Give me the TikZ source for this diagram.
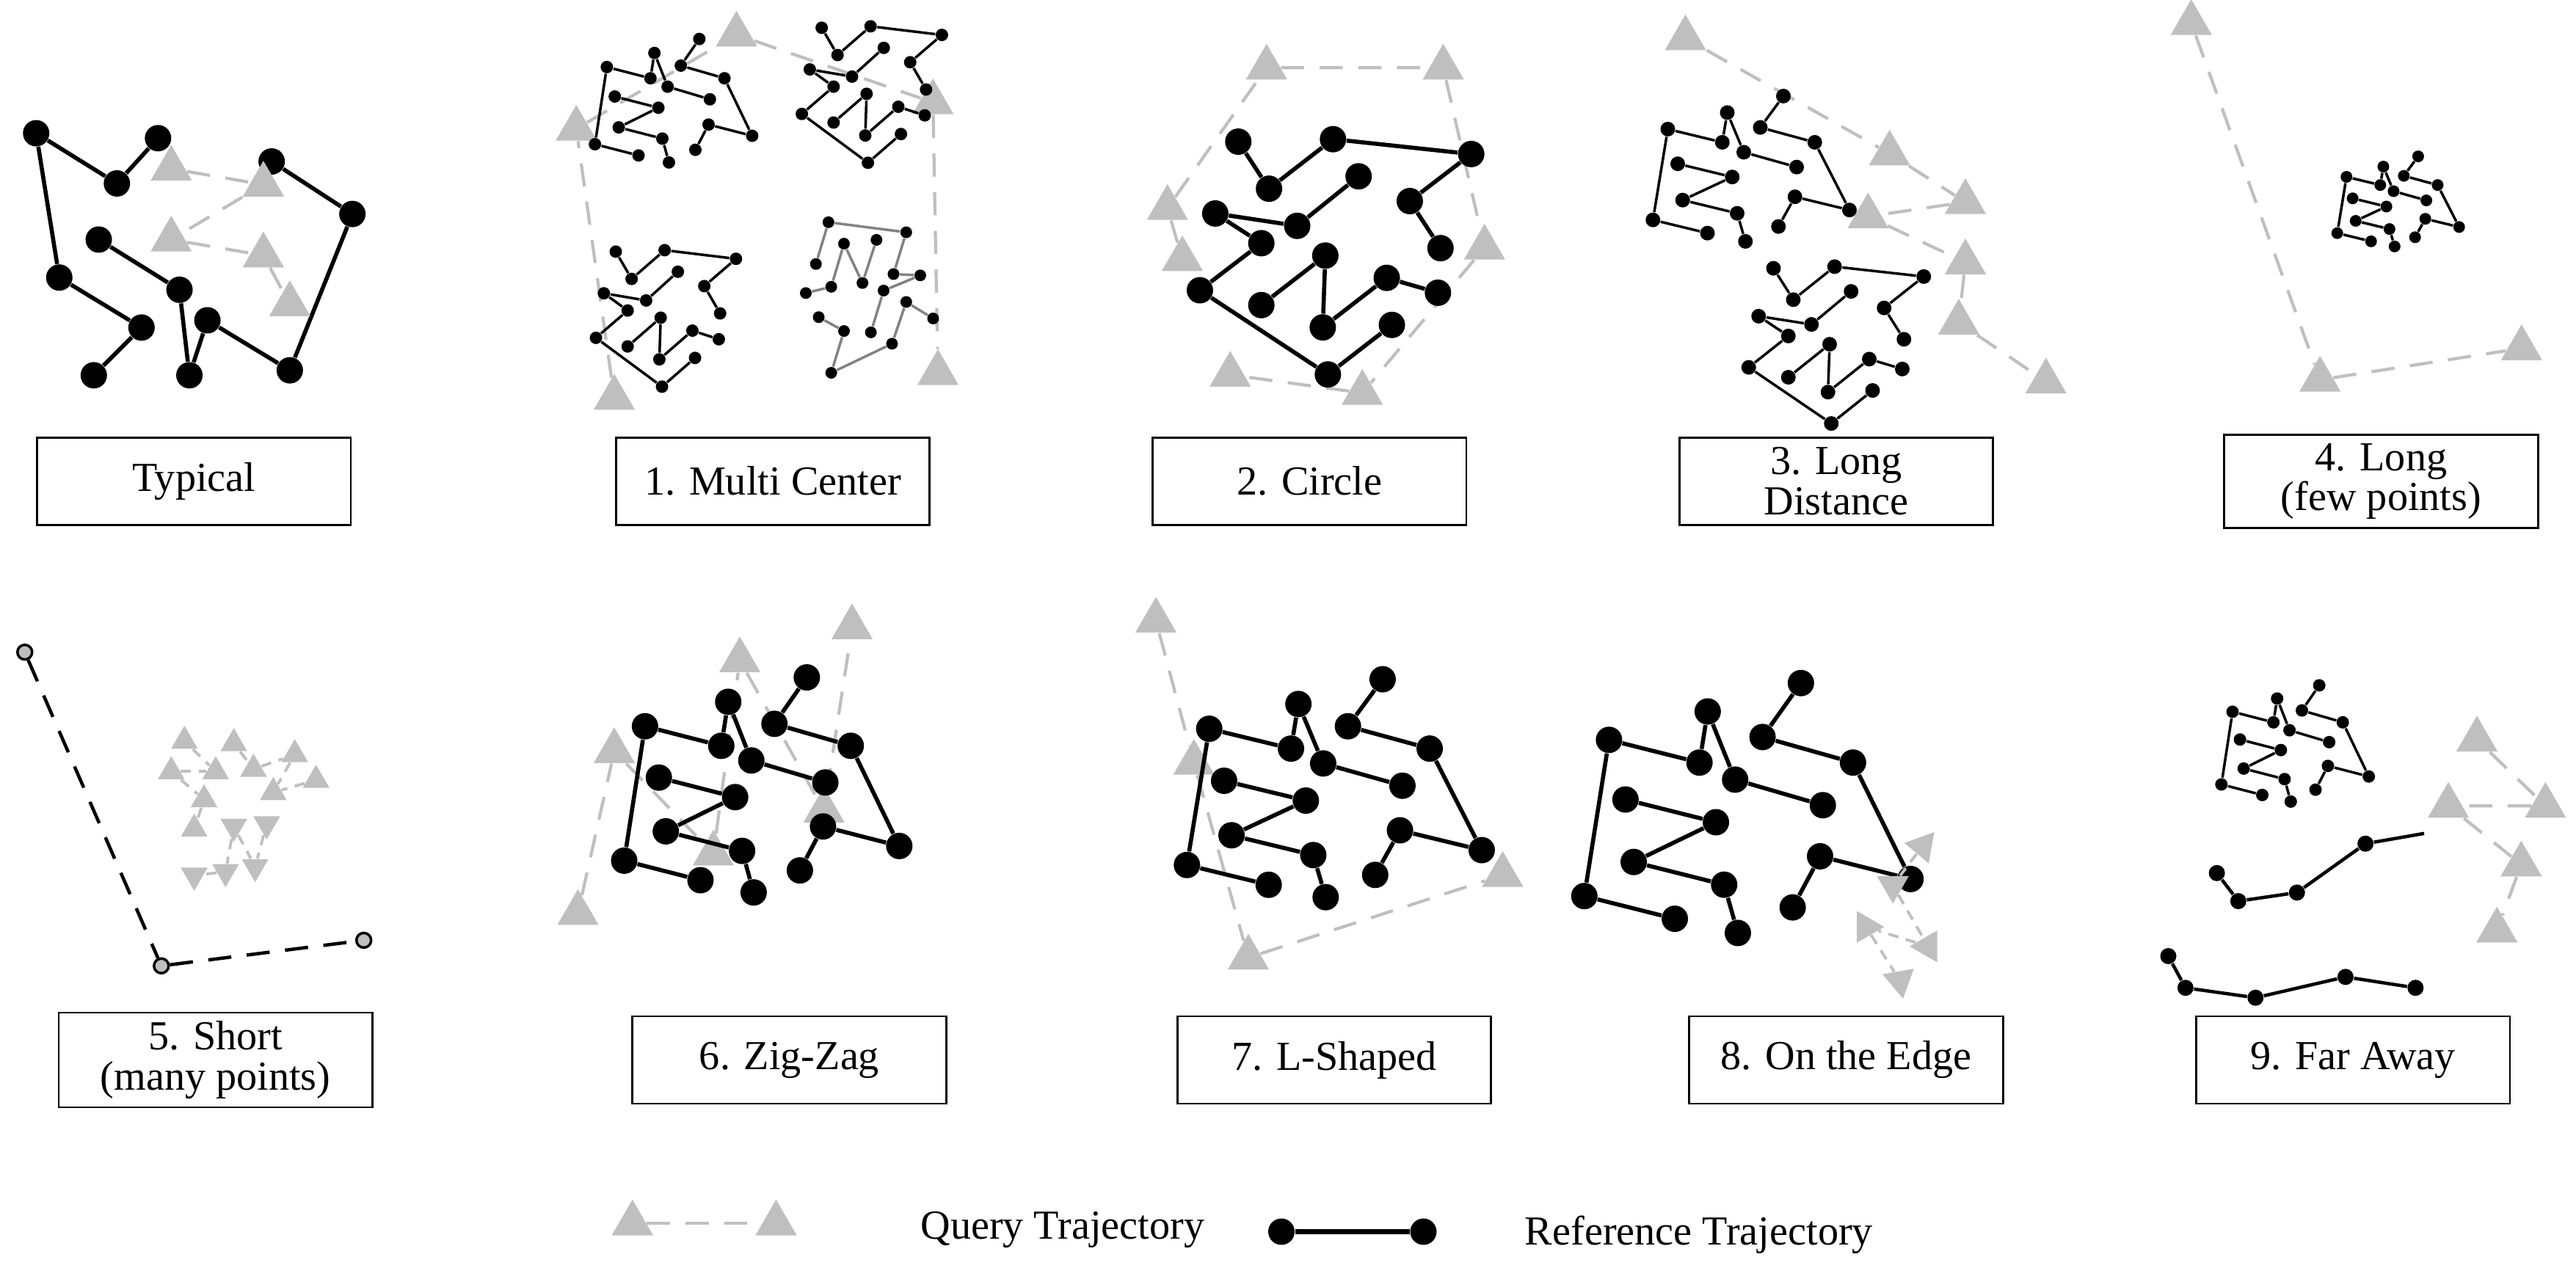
\documentclass[tikz,border=0pt]{standalone}
\usepackage{fontspec}
\setmainfont{Liberation Serif}
\usetikzlibrary{shapes.geometric}
\definecolor{qgray}{RGB}{191,191,191}
\definecolor{cgray}{RGB}{130,130,130}
\tikzset{
  dot/.style={circle,fill=black,inner sep=0pt,minimum size=0.36cm},
  ln/.style={draw=black,line width=1.6pt},
  tri/.style={regular polygon,regular polygon sides=3,fill=qgray,inner sep=0pt,minimum size=0.65cm},
  stri/.style={tri,minimum size=0.42cm},
  mtri/.style={tri,minimum size=0.5cm},
  qln/.style={draw=qgray,line width=1.2pt,dash pattern=on 9pt off 6pt},
  sqln/.style={draw=qgray,line width=1.1pt,dash pattern=on 4pt off 3pt},
  gdot/.style={circle,fill=qgray,draw=black,line width=1pt,inner sep=0pt,minimum size=0.2cm},
  box/.style={draw,line width=0.8pt,minimum width=4.275cm,minimum height=1.19cm,align=center,font=\fontsize{16}{15.5}\selectfont},
  lab/.style={font=\fontsize{16}{18}\selectfont,anchor=west},
  small/.style={dot/.style={circle,fill=black,inner sep=0pt,minimum size=#1},ln/.style={draw=black,line width=1pt}},
  pics/clA/.style={code={
    \foreach \n/\x/\y in {1/-50/-24,2/-14/-34,3/-17/-16,4/-4/-10,5/28/-1,6/-44/-3,7/-11/5,8/-41/19,9/-8/27,10/-3/44,11/-59/31,12/-26/39,13/20/-44,14/6/-25,15/39/-16,16/60/25,17/27/17,18/17/35}
      {\node[dot] (-\n) at (\x,\y) {};}
    \foreach \a/\b in {1/3,2/3,2/4,4/5,1/11,11/12,6/7,7/8,8/9,9/10,13/14,14/15,15/16,16/17,17/18}
      {\draw[ln] (-\a) -- (-\b);}
  }},
  pics/clB/.style={code={
    \foreach \n/\x/\y in {1/-38/-47,2/-26/-28,3/-1/-48,4/53/-42,5/29/-23,6/41/-4,7/9/-33,8/-15/-13,9/-47/-18,10/-29/-6,11/-53/13,12/-4/-1,13/-29/19,14/-5/28,15/20/8,16/40/14,17/22/27,18/-3/47}
      {\node[dot] (-\n) at (\x,\y) {};}
    \foreach \a/\b in {1/2,2/3,3/4,4/5,5/6,7/8,8/9,9/10,10/11,11/18,18/17,13/12,12/14,14/15,15/16}
      {\draw[ln] (-\a) -- (-\b);}
  }}
}
\begin{document}
\begin{tikzpicture}[x=0.0225cm,y=-0.0225cm]
\useasboundingbox (0,0) rectangle (1560,768);

% ---------- Typical ----------
\foreach \n/\x/\y in {1/21.9/80.7,2/70.8/111.1,3/95.7/83.7,4/164.5/97.8,5/213.4/129.6,6/59.8/145.1,7/108.7/175.5,8/35.9/168.1,9/85.7/198.4,10/56.8/227.3,11/114.7/227.3,12/125.6/194,13/175.5/224.3}
  {\node[dot] (t\n) at (\x,\y) {};}
\foreach \a/\b in {1/2,2/3,1/8,8/9,9/10,6/7,7/11,11/12,12/13,13/5,5/4}
  {\draw[ln] (t\a) -- (t\b);}
\node[tri] (tq1) at (103.7,102.2) {};
\node[tri] (tq2) at (159.5,111.8) {};
\node[tri] (tq3) at (103.7,145.1) {};
\node[tri] (tq4) at (159.5,154.7) {};
\node[tri] (tq5) at (175.5,184.3) {};
\draw[qln] (tq1) -- (tq2) -- (tq3) -- (tq4) -- (tq5);
\node[box] (bT) at (117.5,291.5) {Typical};

% ---------- 1. Multi Center ----------
\node[tri] (m1) at (349,78) {};
\node[tri] (m2) at (446,21) {};
\node[tri] (m3) at (565,62) {};
\node[tri] (m4) at (568,226) {};
\node[tri] (m5) at (372,241) {};
\draw[qln] (m5) -- (m1) -- (m2) -- (m3) -- (m4);
\pic[small=0.17cm,xscale=0.8,yscale=0.85] (mA) at (407.5,61) {clA};
\pic[small=0.17cm,xscale=0.8,yscale=0.87] (mB) at (528,57.7) {clB};
\pic[small=0.17cm,xscale=0.8,yscale=0.87] (mC) at (403.3,193.3) {clB};
\foreach \n/\x/\y in {1/501.7/134.6,2/548.8/140.7,3/494.1/159.9,4/511.1/147.6,5/522.3/171.4,6/530.8/145.3,7/488/177.5,8/503.4/173.7,9/541.1/166,10/557.3/166.8,11/535.1/176,12/495.8/192.1,13/511.1/200.5,14/503.4/225.8,15/540.2/208.2,16/548.8/182.9,17/565.1/192.9,18/527.4/201.3}
  {\node[dot,minimum size=0.16cm] (c\n) at (\x,\y) {};}
\foreach \a/\b in {1/2,1/3,2/9,9/10,10/11,7/8,8/4,4/5,5/6,11/18,12/13,13/14,14/15,15/16,16/17}
  {\draw[draw=cgray,line width=1pt] (c\a) -- (c\b);}
\node[box] (b1) at (468,291.5) {1. Multi Center};

% ---------- 2. Circle ----------
\node[tri] (r1) at (716,157) {};
\node[tri] (r2) at (707,126) {};
\node[tri] (r3) at (767,41) {};
\node[tri] (r4) at (874,41) {};
\node[tri] (r5) at (899,150) {};
\node[tri] (r6) at (825,238) {};
\node[tri] (r7) at (745,227) {};
\draw[qln] (r1) -- (r2) -- (r3) -- (r4) -- (r5) -- (r6) -- (r7);
\pic[xscale=1.55,yscale=1.5] (cB) at (808.8,156.3) {clB};
\node[box] (b2) at (793,291.5) {2. Circle};

% ---------- 3. Long Distance ----------
\node[tri] (l1) at (1020.7,23.2) {};
\node[tri] (l2) at (1144.3,93) {};
\node[tri] (l3) at (1190.2,122.4) {};
\node[tri] (l4) at (1131.3,131.1) {};
\node[tri] (l5) at (1190.2,158.9) {};
\node[tri] (l6) at (1186.2,195.4) {};
\node[tri] (l7) at (1239,231.1) {};
\draw[qln] (l1) -- (l2) -- (l3) -- (l4) -- (l5) -- (l6) -- (l7);
\pic[small=0.2cm] (dA) at (1060,102.2) {clA};
\pic[small=0.2cm] (dB) at (1112,209.5) {clB};
\node[box] (b3) at (1112,291.5) {3. Long\\Distance};

% ---------- 4. Long (few points) ----------
\node[tri] (f1) at (1327,14) {};
\node[tri] (f2) at (1405,230) {};
\node[tri] (f3) at (1527,211) {};
\draw[qln] (f1) -- (f2) -- (f3);
\pic[small=0.16cm,scale=0.62] (fA) at (1452,122) {clA};
\node[box] (b4) at (1442,291.5) {4. Long\\(few points)};

% ---------- 5. Short (many points) ----------
\node[gdot] (p1) at (15,395) {};
\node[gdot] (p2) at (97.7,585) {};
\node[gdot] (p3) at (220.3,569.5) {};
\draw[draw=black,line width=1.3pt,dash pattern=on 9pt off 6pt] (p1) -- (p2) -- (p3);
\foreach \n/\x/\y/\r in {1/111.7/448.8/0,2/141.6/450.3/0,3/178.5/457/0,4/103.7/467.3/0,5/130.6/467.3/0,6/153.5/465.8/0,7/191.4/472.5/0,8/165.5/479.9/0,9/123.6/484.3/0,10/117.6/502.1/0,11/141.6/500.6/180,12/161.5/499.1/180,13/117.6/530.2/180,14/136.6/528/180,15/154.5/525/180}
  {\node[stri,rotate=\r] (s\n) at (\x,\y) {};}
\foreach \a/\b in {1/5,4/5,2/6,6/3,3/8,7/8,4/9,9/10,11/15,12/15,11/14,14/13}
  {\draw[sqln] (s\a) -- (s\b);}
\node[box] (b5) at (130.5,642) {5. Short\\(many points)};

% ---------- 6. Zig-Zag ----------
\node[tri] (z1) at (350,553) {};
\node[tri] (z2) at (372,455) {};
\node[tri] (z3) at (432,517) {};
\node[tri] (z4) at (448,400) {};
\node[tri] (z5) at (499,491) {};
\node[tri] (z6) at (516,380) {};
\draw[qln] (z1) -- (z2) -- (z3) -- (z4) -- (z5) -- (z6);
\pic[xscale=1.4,yscale=1.48] (zA) at (460.6,475.4) {clA};
\node[box] (b6) at (478,642) {6. Zig-Zag};

% ---------- 7. L-Shaped ----------
\node[tri] (e1) at (700,376) {};
\node[tri] (e2) at (723,462) {};
\node[tri] (e3) at (756,580) {};
\node[tri] (e4) at (910,530) {};
\draw[qln] (e1) -- (e2) -- (e3) -- (e4);
\pic[scale=1.5] (eA) at (807.3,477.4) {clA};
\node[box] (b7) at (808,642) {7. L-Shaped};

% ---------- 8. On the Edge ----------
\pic[xscale=1.66,yscale=1.72] (gA) at (1057.4,489.4) {clA};
\node[mtri,rotate=200] (g1) at (1164.2,512.5) {};
\node[mtri,rotate=-60] (g2) at (1146.3,536.2) {};
\node[mtri,rotate=30] (g3) at (1130,561.4) {};
\node[mtri,rotate=210] (g4) at (1167.6,573.2) {};
\node[mtri,rotate=190] (g5) at (1150.5,593.9) {};
\draw[sqln] (g1) -- (g2) -- (g4);
\draw[sqln] (g4) -- (g3) -- (g5);
\node[box] (b8) at (1118,642) {8. On the Edge};

% ---------- 9. Far Away ----------
\pic[small=0.17cm,xscale=0.75,yscale=0.8] (wA) at (1389.5,450.3) {clA};
\foreach \n/\x/\y in {1/1342.5/528.8,2/1355.5/545.8,3/1391/540.6,4/1432.5/511}
  {\node[dot,minimum size=0.22cm] (w\n) at (\x,\y) {};}
\coordinate (w5) at (1468,504.8);
\draw[ln,line width=1.3pt] (w1) -- (w2) -- (w3) -- (w4) -- (w5);
\foreach \n/\x/\y in {1/1313.1/579.1,2/1323.5/598.3,3/1365.9/604.3,4/1420.4/591.7,5/1462.8/598.3}
  {\node[dot,minimum size=0.22cm] (v\n) at (\x,\y) {};}
\draw[ln,line width=1.3pt] (v1) -- (v2) -- (v3) -- (v4) -- (v5);
\node[tri] (y1) at (1500,448) {};
\node[tri] (y2) at (1482.7,488.1) {};
\node[tri] (y3) at (1541.5,488.1) {};
\node[tri] (y4) at (1526.8,523.6) {};
\node[tri] (y5) at (1512.1,563.6) {};
\draw[qln] (y1) -- (y3) -- (y2) -- (y4) -- (y5);
\node[box] (b9) at (1425,642) {9. Far Away};

% ---------- Legend ----------
\node[tri] (k1) at (383,741) {};
\node[tri] (k2) at (470,741) {};
\draw[qln] (k1) -- (k2);
\node[lab] (kq) at (552,745) {Query Trajectory};
\node[dot] (k3) at (776,746) {};
\node[dot] (k4) at (862,746) {};
\draw[ln,line width=2.2pt] (k3) -- (k4);
\node[lab] (kr) at (918,748) {Reference Trajectory};
\end{tikzpicture}
\end{document}
